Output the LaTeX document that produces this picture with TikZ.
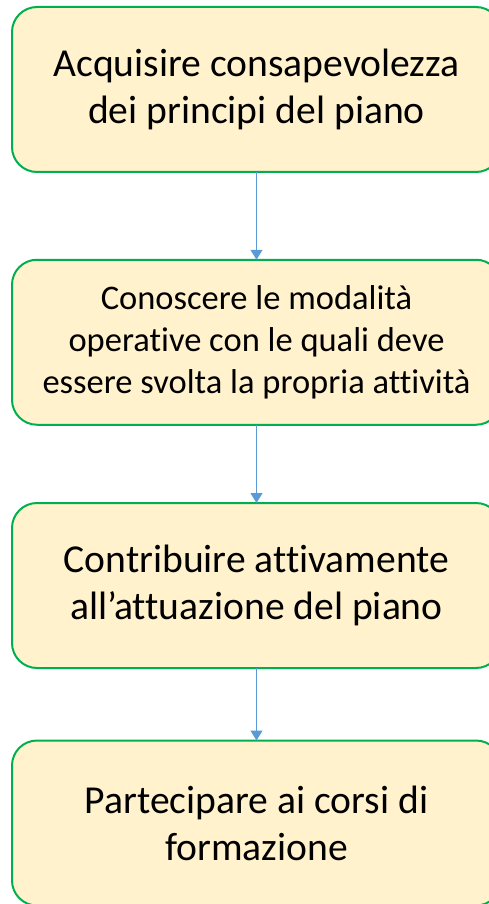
\documentclass[tikz,border=0pt]{standalone}
\usepackage{fontspec}
\setmainfont[Ligatures = NoCommon]{Carlito}
\usepackage{tikz,tkz-graph}
\usetikzlibrary{arrows.meta}
\definecolor{boxFill}{HTML}{FFF2CC}
\definecolor{boxLine}{HTML}{00B050}
\definecolor{arrowLine}{HTML}{5B9BD5}
\tikzstyle{stepBox}=[shape = rectangle, rounded corners = 25pt, minimum width = 489pt, minimum height = 165pt, inner sep = 0pt, align = center, fill = boxFill, draw = boxLine, line width = 2pt, font = \fontsize{39.6}{47}\selectfont]
\tikzstyle{stepBoxSmall}=[stepBox, font = \fontsize{34.5}{42}\selectfont]

\begin{document}
\begin{tikzpicture}[x = 1pt, y = -1pt]
\tikzstyle{VertexStyle} = []
\tikzstyle{EdgeStyle} = [draw = arrowLine, line width = 1.2pt, -{Triangle[width = 12pt, length = 10pt]}]
\path[use as bounding box, clip] (0,0) rectangle (489,904);
\Vertex[style = stepBox, x = 256.5, y = 89.5, L = {Acquisire consapevolezza\\dei principi del piano}]{v0}
\Vertex[style = stepBoxSmall, x = 256.5, y = 342.25, L = {Conoscere le modalità\\operative con le quali deve\\essere svolta la propria attività}]{v1}
\Vertex[style = stepBox, x = 256.5, y = 585.5, L = {Contribuire attivamente\\all’attuazione del piano}]{v2}
\Vertex[style = stepBox, x = 256.5, y = 823, L = {Partecipare ai corsi di\\formazione}]{v3}
\Edge[](v0)(v1)
\Edge[](v1)(v2)
\Edge[](v2)(v3)
\end{tikzpicture}
\end{document}
